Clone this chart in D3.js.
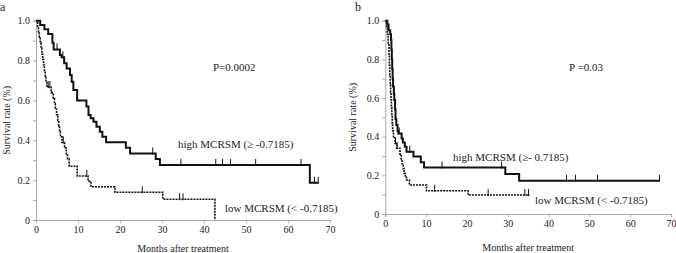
<!DOCTYPE html>
<html>
<head>
<meta charset="utf-8">
<script src="https://cdn.jsdelivr.net/npm/d3@7"></script>
<style>
  body { margin: 0; background: #fff; }
  svg { display: block; font-family: "Liberation Serif", "Times New Roman", serif; }
</style>
</head>
<body>
<div id="chart"></div>
<script>
// panel a — high MCRSM (solid)
var aHighTime = [1.0, 2.0, 2.9, 3.9, 4.2, 5.7, 6.1, 6.7, 7.3, 8.1, 8.5, 8.9, 9.8, 12.0, 12.5, 13.0, 13.7, 14.4, 15.2, 15.8, 16.7, 21.4, 22.4, 28.5, 29.5, 65.2];
var aHighSurv = [0.978, 0.957, 0.933, 0.889, 0.856, 0.828, 0.816, 0.786, 0.760, 0.727, 0.694, 0.652, 0.600, 0.569, 0.527, 0.510, 0.493, 0.468, 0.443, 0.418, 0.390, 0.362, 0.334, 0.306, 0.276, 0.187];
var aHighEnd = 67.2;
var aHighCens = [5.0, 6.4, 27.8, 34.5, 42.8, 44.4, 46.3, 52.3, 63.1, 66.3, 67.2];

// panel a — low MCRSM (dotted)
var aLowTime = [0.4, 0.6, 0.8, 1.0, 1.2, 1.4, 1.6, 1.8, 2.0, 2.2, 2.4, 2.6, 3.6, 4.1, 4.4, 4.6, 4.9, 5.2, 5.4, 5.6, 5.8, 6.2, 6.8, 7.2, 7.5, 7.9, 9.8, 12.4, 13.1, 18.8, 30.2, 42.6];
var aLowSurv = [0.972, 0.944, 0.917, 0.889, 0.861, 0.833, 0.806, 0.778, 0.750, 0.722, 0.694, 0.667, 0.639, 0.611, 0.583, 0.556, 0.528, 0.500, 0.472, 0.444, 0.417, 0.389, 0.361, 0.333, 0.306, 0.270, 0.221, 0.194, 0.167, 0.139, 0.104, 0];
var aLowEnd = 42.6;
var aLowCens = [2.9, 3.3, 6.5, 12.1, 25.3, 34.2, 35.0];

// panel b — high MCRSM (solid)
var bHighTime = [0.5, 0.8, 1.2, 1.4, 1.5, 1.6, 1.7, 1.8, 1.9, 2.1, 2.2, 2.4, 2.5, 2.7, 3.0, 3.2, 4.0, 4.3, 4.8, 5.2, 6.9, 8.7, 9.5, 29.4, 32.8];
var bHighSurv = [0.98, 0.95, 0.93, 0.90, 0.85, 0.80, 0.75, 0.70, 0.66, 0.62, 0.59, 0.54, 0.49, 0.46, 0.43, 0.417, 0.39, 0.37, 0.348, 0.322, 0.297, 0.268, 0.240, 0.207, 0.172];
var bHighEnd = 67.2;
var bHighCens = [3.4, 6.0, 13.9, 28.5, 44.4, 46.6, 52.0, 67.2];

// panel b — low MCRSM (dotted)
var bLowTime = [0.3, 0.5, 0.7, 0.9, 1.0, 1.1, 1.2, 1.3, 1.4, 1.5, 1.6, 1.7, 1.8, 2.0, 2.4, 2.8, 3.6, 3.9, 4.1, 4.4, 4.6, 4.9, 5.2, 5.9, 10.1, 20.3];
var bLowSurv = [0.97, 0.93, 0.88, 0.82, 0.77, 0.72, 0.67, 0.63, 0.59, 0.55, 0.51, 0.47, 0.43, 0.40, 0.366, 0.34, 0.31, 0.28, 0.26, 0.235, 0.21, 0.19, 0.176, 0.15, 0.12, 0.098];
var bLowEnd = 35.3;
var bLowCens = [2.5, 2.9, 12.1, 25.2, 34.2, 35.1];

var xTicks = [0, 10, 20, 30, 40, 50, 60, 70];
var yTicks = [0, 0.1, 0.2, 0.3, 0.4, 0.5, 0.6, 0.7, 0.8, 0.9, 1.0];
var yLabels = {0: "0", 0.2: "0.2", 0.4: "0.4", 0.6: "0.6", 0.8: "0.8", 1: "1.0"};

var svg = d3.select("#chart").append("svg")
  .attr("width", 676)
  .attr("height", 253);

function styleAxis(s) {
  s.attr("font-family", null).attr("font-size", null);
  s.select(".domain").attr("stroke", "#aaa");
  s.selectAll("line").attr("stroke", "#aaa");
  s.selectAll("text").attr("font-size", 10).attr("fill", "#222");
}

function drawPanel(p) {
  var x = d3.scaleLinear().domain([0, 70]).range([p.left, p.right]),
      y = d3.scaleLinear().domain([0, 1]).range([p.bottom, p.top]);

  var g = svg.append("g");

  g.append("g")
    .attr("transform", "translate(0," + p.bottom + ")")
    .call(d3.axisBottom(x).tickValues(xTicks).tickSize(3).tickPadding(3))
    .call(styleAxis);

  g.append("g")
    .attr("transform", "translate(" + p.left + ",0)")
    .call(d3.axisLeft(y).tickValues(yTicks).tickSize(3).tickPadding(3)
      .tickFormat(function (d) { var k = Math.round(d * 10) / 10; return yLabels[k] || ""; }))
    .call(styleAxis);

  g.append("text")
    .attr("x", (p.left + p.right) / 2)
    .attr("y", p.xTitleY)
    .attr("text-anchor", "middle")
    .attr("font-size", 10)
    .attr("fill", "#222")
    .text("Months after treatment");

  g.append("text")
    .attr("transform", "translate(" + p.yTitleX + "," + (p.top + p.bottom) / 2 + ") rotate(-90)")
    .attr("text-anchor", "middle")
    .attr("font-size", 10)
    .attr("fill", "#222")
    .text("Survival rate (%)");

  g.append("text")
    .attr("x", p.letterX)
    .attr("y", p.letterY)
    .attr("font-size", 12)
    .attr("fill", "#222")
    .text(p.letter);

  var line = d3.line()
    .curve(d3.curveStepAfter)
    .x(function (d) { return x(d[0]); })
    .y(function (d) { return y(d[1]); });

  p.series.forEach(function (s) {
    var pts = [[0, 1]];
    s.time.forEach(function (t, i) { pts.push([t, s.surv[i]]); });
    pts.push([s.end, s.surv[s.surv.length - 1]]);

    g.append("path")
      .datum(pts)
      .attr("fill", "none")
      .attr("stroke", "#111")
      .attr("stroke-width", s.dotted ? 1.6 : 2)
      .attr("stroke-dasharray", s.dotted ? "2,1" : null)
      .attr("d", line);

    var survAt = function (t) {
      var v = 1;
      s.time.forEach(function (tt, i) { if (tt <= t) v = s.surv[i]; });
      return v;
    };

    g.selectAll(null)
      .data(s.cens)
      .enter().append("line")
      .attr("x1", function (d) { return x(d); })
      .attr("x2", function (d) { return x(d); })
      .attr("y1", function (d) { return y(survAt(d)) - 6; })
      .attr("y2", function (d) { return y(survAt(d)) + 1; })
      .attr("stroke", "#111")
      .attr("stroke-width", 1);
  });

  p.notes.forEach(function (n) {
    g.append("text")
      .attr("x", n.x)
      .attr("y", n.y)
      .attr("font-size", 11)
      .attr("fill", "#222")
      .text(n.text);
  });
}

drawPanel({
  letter: "a", letterX: 0, letterY: 11,
  left: 36, right: 330, top: 20.7, bottom: 220,
  xTitleY: 252, yTitleX: 10,
  series: [
    {time: aHighTime, surv: aHighSurv, end: aHighEnd, cens: aHighCens, dotted: false},
    {time: aLowTime, surv: aLowSurv, end: aLowEnd, cens: aLowCens, dotted: true}
  ],
  notes: [
    {x: 213, y: 71, text: "P=0.0002"},
    {x: 178, y: 148, text: "high MCRSM (\u2265 -0.7185)"},
    {x: 225, y: 212, text: "low MCRSM (< -0.7185)"}
  ]
});

drawPanel({
  letter: "b", letterX: 355, letterY: 11,
  left: 385.3, right: 671, top: 20.7, bottom: 214,
  xTitleY: 251, yTitleX: 356,
  series: [
    {time: bHighTime, surv: bHighSurv, end: bHighEnd, cens: bHighCens, dotted: false},
    {time: bLowTime, surv: bLowSurv, end: bLowEnd, cens: bLowCens, dotted: true}
  ],
  notes: [
    {x: 569, y: 71, text: "P =0.03"},
    {x: 453, y: 161, text: "high MCRSM (\u2265- 0.7185)"},
    {x: 535, y: 204, text: "low MCRSM (< -0.7185)"}
  ]
});
</script>
</body>
</html>
